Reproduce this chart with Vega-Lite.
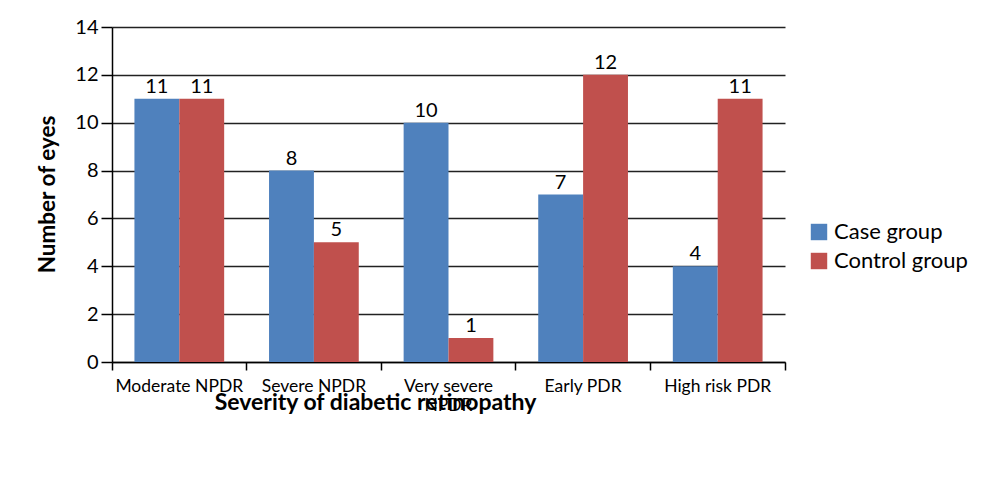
{
  "$schema": "https://vega.github.io/schema/vega-lite/v6.json",
  "autosize": "none",
  "width": 673,
  "height": 335,
  "padding": {"left": 112, "top": 27, "right": 215, "bottom": 123},
  "background": "white",
  "config": {"view": {"stroke": null}, "font": "Lato"},
  "data": {
    "values": [
      {"severity": "Moderate NPDR", "group": "Case group", "eyes": 11},
      {"severity": "Moderate NPDR", "group": "Control group", "eyes": 11},
      {"severity": "Severe NPDR", "group": "Case group", "eyes": 8},
      {"severity": "Severe NPDR", "group": "Control group", "eyes": 5},
      {"severity": "Very severe NPDR", "group": "Case group", "eyes": 10},
      {"severity": "Very severe NPDR", "group": "Control group", "eyes": 1},
      {"severity": "Early PDR", "group": "Case group", "eyes": 7},
      {"severity": "Early PDR", "group": "Control group", "eyes": 12},
      {"severity": "High risk PDR", "group": "Case group", "eyes": 4},
      {"severity": "High risk PDR", "group": "Control group", "eyes": 11}
    ]
  },
  "encoding": {
    "x": {
      "field": "severity",
      "type": "nominal",
      "sort": null,
      "scale": {"paddingInner": 0, "paddingOuter": 0},
      "axis": {
        "title": "Severity of diabetic retinopathy",
        "titleFont": "Lato",
        "titleFontSize": 23,
        "titleFontWeight": "bold",
        "titleColor": "black",
        "titleX": 263,
        "titleY": 47,
        "titleAnchor": "middle",
        "titleAlign": "center",
        "titleBaseline": "alphabetic",
        "labelAngle": 0,
        "labelFontSize": 17.5,
        "labelColor": "black",
        "labelPadding": 7,
        "labelBaseline": "top",
        "labelExpr": "datum.label == 'Very severe NPDR' ? ['Very severe', 'NPDR'] : datum.label",
        "labelLineHeight": 19,
        "bandPosition": 1,
        "tickExtra": true,
        "tickSize": 8,
        "tickColor": "black",
        "tickWidth": 1.5,
        "domainColor": "black",
        "domainWidth": 1.5,
        "grid": false
      }
    },
    "y": {
      "field": "eyes",
      "type": "quantitative",
      "scale": {"domain": [0, 14]},
      "axis": {
        "title": "Number of eyes",
        "values": [0, 2, 4, 6, 8, 10, 12, 14],
        "titleFont": "Lato",
        "titleFontSize": 22.5,
        "titleFontWeight": "bold",
        "titleColor": "black",
        "titleAngle": -90,
        "titleX": -65,
        "titleY": 167,
        "titleAlign": "center",
        "titleBaseline": "middle",
        "labelFontSize": 20,
        "labelColor": "black",
        "labelPadding": 3,
        "tickSize": 11,
        "tickColor": "black",
        "tickWidth": 1.5,
        "domainColor": "black",
        "domainWidth": 1.5,
        "grid": true,
        "gridColor": "#222222",
        "gridWidth": 1.3
      }
    }
  },
  "layer": [
    {
      "mark": {"type": "bar"},
      "encoding": {
        "xOffset": {
          "field": "group",
          "type": "nominal",
          "scale": {"paddingInner": 0, "paddingOuter": 0.5}
        },
        "color": {
          "field": "group",
          "type": "nominal",
          "scale": {"domain": ["Case group", "Control group"], "range": ["#4F81BD", "#C0504D"]},
          "legend": {
            "title": null,
            "orient": "none",
            "legendX": 696,
            "legendY": 194,
            "symbolType": "square",
            "symbolSize": 270,
            "symbolStrokeWidth": 0,
            "labelFontSize": 22,
            "labelColor": "black",
            "labelFont": "Lato",
            "rowPadding": 7,
            "labelOffset": 4
          }
        }
      }
    },
    {
      "mark": {"type": "text", "baseline": "bottom", "dy": -2, "fontSize": 20, "color": "black", "font": "Lato"},
      "encoding": {
        "xOffset": {
          "field": "group",
          "type": "nominal",
          "scale": {"paddingInner": 0, "paddingOuter": 0.5}
        },
        "text": {"field": "eyes", "type": "quantitative"}
      }
    }
  ]
}
